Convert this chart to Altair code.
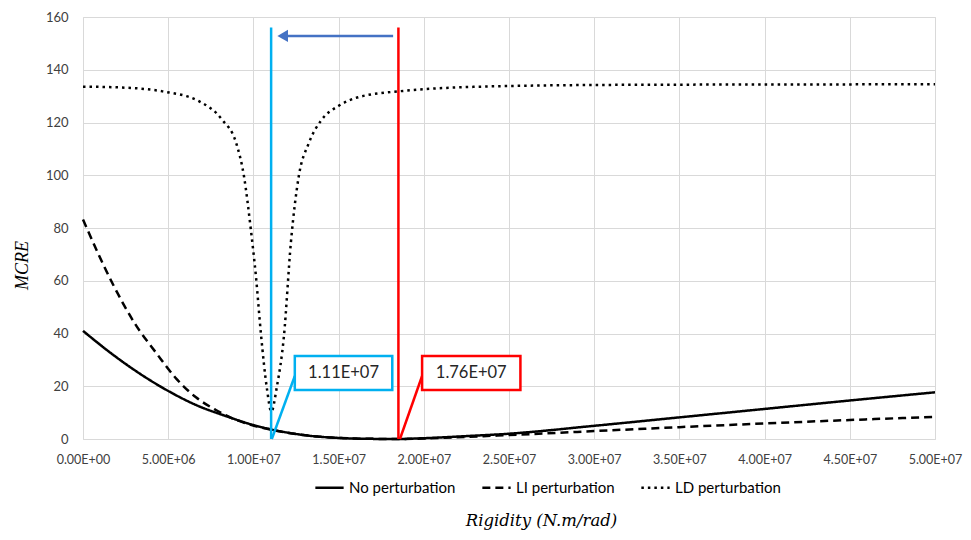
import altair as alt
import pandas as pd

# Rigidity values are in units of 1e6 N.m/rad
no_pert_x = [0, 1.77, 3.33, 4.98, 6.63, 8.38, 10.0, 11.0, 13.2, 15.0, 17.0, 18.5, 20.0, 22.5, 25.0, 30.0, 35.0, 40.0, 45.0, 50.0]
no_pert_y = [41.0, 31.9, 24.8, 18.3, 12.9, 8.7, 5.3, 3.7, 1.3, 0.4, 0.05, 0.0, 0.3, 1.1, 2.0, 5.0, 8.2, 11.4, 14.6, 17.7]

li_x = [0, 1.77, 3.03, 4.3, 5.47, 6.63, 7.8, 8.67, 10.0, 11.0, 13.2, 15.0, 17.0, 18.5, 20.0, 24.3, 30.0, 35.0, 40.0, 45.0, 50.0]
li_y = [83.2, 58.5, 43.9, 32.6, 22.9, 15.8, 11.0, 8.1, 5.1, 3.6, 1.3, 0.4, 0.05, 0.0, 0.2, 1.3, 3.0, 4.5, 5.9, 7.2, 8.4]

ld_x = [0, 2.5, 4.67, 6.83, 8.17, 9.0, 9.45, 9.85, 10.15, 10.44, 10.8, 11.05, 11.38, 11.79, 12.2, 12.66, 13.24, 14.0, 15.0, 16.0, 18.5, 24.7, 32.3, 40.0, 50.0]
ld_y = [133.6, 133.2, 131.8, 128.0, 121.0, 112.0, 99.5, 79.4, 61.6, 40.0, 18.8, 10.4, 19.9, 38.9, 74.5, 99.5, 112.0, 121.0, 126.3, 129.3, 131.8, 133.8, 134.3, 134.4, 134.5]

series_names = ["No perturbation", "LI perturbation", "LD perturbation"]
series_dash = [[1, 0], [8, 5], [2.5, 4]]

x_ticks = [0, 5, 10, 15, 20, 25, 30, 35, 40, 45, 50]
y_ticks = [0, 20, 40, 60, 80, 100, 120, 140, 160]

# annotations (x in 1e6, y in MCRE units)
marker_x = [11.04, 18.51]
marker_bottom = [0, 0]
marker_top = [156, 156]
marker_color = ["#00B0F0", "#FF0000"]
callout_label = ["1.11E+07", "1.76E+07"]
box_x0 = [12.43, 19.90]
box_x1 = [18.15, 25.67]
box_y0 = [18.6, 18.6]
box_y1 = [31.5, 31.5]
pointer_x0 = [12.43, 19.90]
pointer_y0 = [23.9, 23.9]
pointer_x1 = [11.08, 18.60]
pointer_y1 = [0, 0]
arrow_y = 152.8
arrow_from = 18.2
arrow_to = 12.0
arrow_head = 11.72

M = 1e6
rows = []
for name, xs, ys in [(series_names[0], no_pert_x, no_pert_y),
                     (series_names[1], li_x, li_y),
                     (series_names[2], ld_x, ld_y)]:
    for xv, yv in zip(xs, ys):
        rows.append({"series": name, "x": xv * M, "y": yv})
lines_df = pd.DataFrame(rows)

ann_df = pd.DataFrame({
    "mx": [v * M for v in marker_x], "mbot": marker_bottom, "mtop": marker_top, "color": marker_color,
    "label": callout_label,
    "bx0": [v * M for v in box_x0], "bx1": [v * M for v in box_x1],
    "by0": box_y0, "by1": box_y1,
    "px0": [v * M for v in pointer_x0], "py0": pointer_y0,
    "px1": [v * M for v in pointer_x1], "py1": pointer_y1,
    "tx": [(a + b) / 2 * M for a, b in zip(box_x0, box_x1)],
    "ty": [(a + b) / 2 for a, b in zip(box_y0, box_y1)],
})
arrow_df = pd.DataFrame({"x": [arrow_from * M], "x2": [arrow_to * M], "hx": [arrow_head * M], "y": [arrow_y]})

xscale = alt.Scale(domain=[0, 5e7], nice=False, zero=False)
yscale = alt.Scale(domain=[0, 160], nice=False)

xaxis = alt.Axis(
    values=[v * M for v in x_ticks],
    labelExpr="replace(format(datum.value, '.2e'), 'e+', 'E+0')",
    title="Rigidity (N.m/rad)",
    titleFont="DejaVu Serif", titleFontStyle="italic", titleFontWeight="normal",
    titleFontSize=16.5, titleColor="#000000",
    titleX=458, titleY=81, titleBaseline="middle", titleAnchor="middle",
    labelFont="Lato", labelFontSize=12.5, labelColor="#404040", labelPadding=14,
    labelFlush=False, labelOverlap=False,
    grid=True, gridColor="#D9D9D9", domain=False, ticks=False,
)
yaxis = alt.Axis(
    values=y_ticks,
    title="MCRE",
    titleFont="Liberation Serif", titleFontStyle="italic", titleFontWeight="normal",
    titleFontSize=18, titleColor="#000000",
    titleX=-61, titleY=248, titleBaseline="middle", titleAngle=270, titleAnchor="middle",
    labelFont="Lato", labelFontSize=13, labelColor="#404040", labelPadding=15,
    grid=True, gridColor="#D9D9D9", domain=False, ticks=False,
)

lines = alt.Chart(lines_df).mark_line(strokeWidth=2.5, interpolate="monotone", color="black").encode(
    x=alt.X("x:Q", scale=xscale, axis=xaxis),
    y=alt.Y("y:Q", scale=yscale, axis=yaxis),
    strokeDash=alt.StrokeDash(
        "series:N",
        scale=alt.Scale(domain=series_names, range=series_dash),
        sort=series_names,
        legend=alt.Legend(
            title=None, orient="none", legendX=231, legendY=455, direction="horizontal",
            symbolType="stroke", symbolSize=800, symbolStrokeWidth=2.5, symbolStrokeColor="black",
            labelFont="Lato", labelFontSize=15, labelColor="#000000", labelOffset=4,
            columnPadding=21, labelLimit=300,
        ),
    ),
)

markers = alt.Chart(ann_df).mark_rule(strokeWidth=2.5).encode(
    x="mx:Q", y="mbot:Q", y2="mtop:Q",
    color=alt.Color("color:N", scale=None, legend=None),
)

pointers = alt.Chart(ann_df).mark_rule(strokeWidth=2.5).encode(
    x="px0:Q", y="py0:Q", x2="px1:Q", y2="py1:Q",
    color=alt.Color("color:N", scale=None, legend=None),
)

boxes = alt.Chart(ann_df).mark_rect(fill="white", strokeWidth=2.5).encode(
    x="bx0:Q", x2="bx1:Q", y="by0:Q", y2="by1:Q",
    stroke=alt.Stroke("color:N", scale=None, legend=None),
)

labels = alt.Chart(ann_df).mark_text(font="Lato", fontSize=16.5, color="#262626", align="center", baseline="middle").encode(
    x="tx:Q", y="ty:Q", text="label:N",
)

arrow_line = alt.Chart(arrow_df).mark_rule(strokeWidth=2.5, color="#4472C4").encode(
    x="x:Q", x2="x2:Q", y="y:Q",
)
arrow_tip = alt.Chart(arrow_df).mark_point(shape="triangle-left", filled=True, size=150, color="#4472C4", opacity=1).encode(
    x="hx:Q", y="y:Q",
)

chart = alt.layer(lines, markers, pointers, boxes, labels, arrow_line, arrow_tip).properties(
    width=852, height=422,
    autosize=alt.AutoSizeParams(type="none"),
    padding={"left": 75, "top": 9, "right": 28, "bottom": 92},
).configure_view(stroke=None).configure(background="white")

chart.save("out.html", embed_options={"renderer": "svg", "actions": False})
